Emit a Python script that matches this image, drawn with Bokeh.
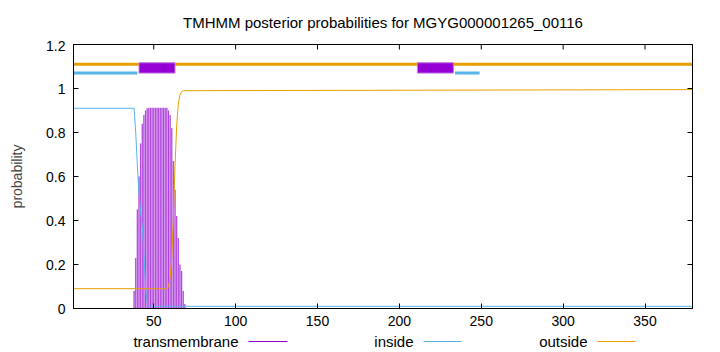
from bokeh.plotting import figure
from bokeh.models import (Range1d, FixedTicker, LinearAxis, CustomJSTickFormatter)
from bokeh.layouts import column
from bokeh.core.properties import value
from bokeh.embed import file_html
from bokeh.resources import INLINE

# ---------------- data ----------------
seq_len = 379
title_text = "TMHMM posterior probabilities for MGYG000001265_00116"

# transmembrane posterior (impulses), only non-zero positions
tm_pos = [38, 39, 40, 41, 42, 43, 44, 45, 46, 47, 48, 49, 50, 51, 52, 53, 54, 55,
          56, 57, 58, 59, 60, 61, 62, 63, 64, 65, 66, 67, 68, 69]
tm_prob = [0.08, 0.23, 0.45, 0.60, 0.75, 0.84, 0.88, 0.90, 0.91, 0.912, 0.912, 0.912,
           0.912, 0.912, 0.912, 0.912, 0.912, 0.912, 0.912, 0.912, 0.912, 0.90, 0.88,
           0.82, 0.67, 0.54, 0.42, 0.32, 0.20, 0.17, 0.08, 0.02]

# inside posterior (line, breakpoints)
inside_pos = [1, 38, 39, 40, 41, 42, 43, 44, 45, 46, 47, 379]
inside_prob = [0.91, 0.91, 0.80, 0.65, 0.52, 0.44, 0.37, 0.25, 0.10, 0.02, 0.01, 0.01]

# outside posterior (line, breakpoints)
outside_pos = [1, 58, 59, 60, 61, 62, 63, 64, 65, 66, 67, 68, 379]
outside_prob = [0.09, 0.09, 0.10, 0.14, 0.23, 0.42, 0.65, 0.83, 0.93, 0.97, 0.985, 0.99, 0.995]

# predicted topology bars at the top
inside_seg_start = [1, 234]
inside_seg_end = [40, 249]
tm_seg_start = [41, 211]
tm_seg_end = [63, 233]
outside_seg_start = [1]
outside_seg_end = [379]

x_ticks = [50, 100, 150, 200, 250, 300, 350]
y_ticks = [0, 0.2, 0.4, 0.6, 0.8, 1.0, 1.2]

legend_labels = ["transmembrane", "inside", "outside"]

# ---------------- style ----------------
C_TM = "#9400D3"
C_TM_LIGHT = "#dcaaf0"
C_IN = "#56B4E9"
C_OUT = "#E69F00"
FONT = "Liberation Sans"
FRAME_L, FRAME_R = 73, 692
Y_MAX = 1.2
TICK_LEN = 5 / 220.0  # 5 px in y data units
TITLE_H, LEGEND_H = 40, 20
MAIN_H = 352 - TITLE_H - LEGEND_H


def strip(height):
    # thin helper figure; the column layout aligns its frame with the main frame,
    # so its x range is expressed in canvas pixels of that frame
    f = figure(width=720, height=height, x_range=Range1d(FRAME_L, FRAME_R),
               y_range=Range1d(0, height), output_backend="svg", toolbar_location=None,
               title=None, x_axis_type=None, y_axis_type=None,
               min_border_left=FRAME_L, min_border_right=720 - FRAME_R,
               min_border_top=0, min_border_bottom=0)
    f.outline_line_color = None
    f.xgrid.visible = False
    f.ygrid.visible = False
    f.background_fill_color = "white"
    f.border_fill_color = "white"
    return f


# ---------------- title strip ----------------
tf = strip(TITLE_H)
tf.text(x=[(FRAME_L + FRAME_R) / 2], y=[TITLE_H - 22], text=[title_text], text_align="center",
        text_baseline="middle", text_font=value(FONT), text_font_size="15px",
        text_color="black")

# ---------------- main plot ----------------
p = figure(width=720, height=MAIN_H, x_range=Range1d(1, seq_len), y_range=Range1d(0, Y_MAX),
           output_backend="svg", toolbar_location=None, title=None,
           min_border_left=FRAME_L, min_border_right=720 - FRAME_R,
           min_border_top=4, min_border_bottom=24)
p.background_fill_color = "white"
p.border_fill_color = "white"
p.outline_line_color = "black"
p.outline_line_width = 1
p.xgrid.visible = False
p.ygrid.visible = False

# x axis
xa = p.xaxis[0]
xa.ticker = FixedTicker(ticks=x_ticks)
xa.major_tick_in = 5
xa.major_tick_out = 0
xa.minor_tick_line_color = None
xa.major_label_standoff = 7
xa.major_label_text_font = FONT
xa.major_label_text_font_size = "14px"
xa.major_label_text_color = "black"
xa.axis_line_color = "black"

# y axis
ya = p.yaxis[0]
ya.ticker = FixedTicker(ticks=y_ticks)
ya.formatter = CustomJSTickFormatter(code="return (Math.round(tick*10)/10).toString();")
ya.major_tick_in = 5
ya.major_tick_out = 0
ya.minor_tick_line_color = None
ya.major_label_standoff = 8
ya.major_label_text_font = FONT
ya.major_label_text_font_size = "14px"
ya.major_label_text_color = "black"
ya.axis_label = "probability"
ya.axis_label_text_font = FONT
ya.axis_label_text_font_size = "14px"
ya.axis_label_text_font_style = "normal"
ya.axis_label_standoff = 18
ya.axis_line_color = "black"

# mirrored ticks on the right
right_ax = LinearAxis(ticker=FixedTicker(ticks=y_ticks), major_tick_in=5, major_tick_out=0,
                      minor_tick_line_color=None, major_label_text_color=None,
                      major_label_text_font_size="1px", major_label_standoff=0)
p.add_layout(right_ax, "right")
# mirrored ticks on the top border
p.segment(x0=x_ticks, y0=[Y_MAX] * len(x_ticks), x1=x_ticks,
          y1=[Y_MAX - TICK_LEN] * len(x_ticks), line_color="black", line_width=1)

# posterior curves
p.vbar(x=tm_pos, width=1.0, bottom=0, top=tm_prob, fill_color=C_TM_LIGHT,
       fill_alpha=0.9, line_color=None)
p.segment(x0=tm_pos, y0=[0] * len(tm_pos), x1=tm_pos, y1=tm_prob,
          line_color=C_TM, line_width=1.0, line_alpha=0.65)
p.line(inside_pos, inside_prob, line_color=C_IN, line_width=1)
p.line(outside_pos, outside_prob, line_color=C_OUT, line_width=1)

# topology bars
p.segment(x0=outside_seg_start, y0=[1.11] * len(outside_seg_start),
          x1=outside_seg_end, y1=[1.11] * len(outside_seg_end),
          line_color=C_OUT, line_width=3)
p.segment(x0=inside_seg_start, y0=[1.07] * len(inside_seg_start),
          x1=inside_seg_end, y1=[1.07] * len(inside_seg_end),
          line_color=C_IN, line_width=3)
p.quad(left=tm_seg_start, right=tm_seg_end, bottom=[1.07] * len(tm_seg_start),
       top=[1.117] * len(tm_seg_start), fill_color=C_TM, line_color="#c27de6", line_width=1)

# ---------------- legend strip below (gnuplot style: text, then sample line) -----
lf = strip(LEGEND_H)
leg_y = 11
leg_text_right = [238, 413, 587]
leg_line_start = [248, 423, 597]
leg_line_end = [287, 461, 635]
lf.text(x=leg_text_right, y=[leg_y] * 3, text=legend_labels, text_align="right",
        text_baseline="middle", text_font=value(FONT), text_font_size="15px",
        text_color="black")
lf.segment(x0=leg_line_start, y0=[leg_y] * 3, x1=leg_line_end, y1=[leg_y] * 3,
           line_color=[C_TM, C_IN, C_OUT], line_width=1)

layout = column(tf, p, lf, spacing=0)
open("out.html", "w").write(file_html(layout, INLINE))
